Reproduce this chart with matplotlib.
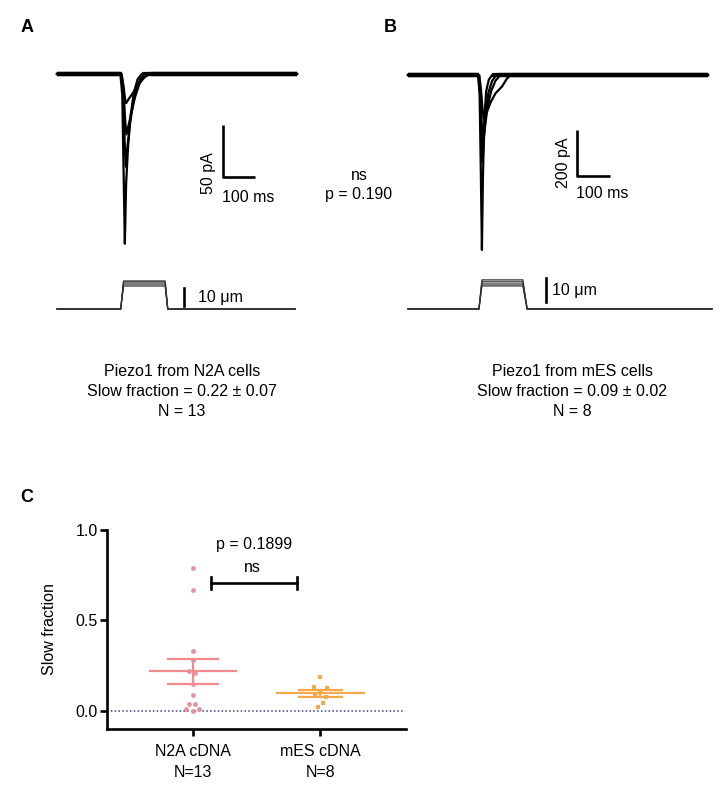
import numpy as np
import matplotlib
matplotlib.use("Agg")
import matplotlib.pyplot as plt

plt.rcParams["font.family"] = ["Liberation Sans", "DejaVu Sans"]

W, H = 725, 805

# --- panel A traces (time ms, current pA)
a_traces = [
    [(0, 0), (198, 0), (204, -20), (209, -110), (212, -163), (216, -105), (222, -70),
     (230, -40), (240, -18), (252, -5), (265, 0), (750, 0)],
    [(0, 0), (200, 0), (207, -20), (212, -70), (215, -89), (220, -70), (228, -48),
     (237, -30), (248, -13), (262, -4), (278, 0), (750, 0)],
    [(0, 0), (201, 0), (208, -15), (213, -45), (217, -58), (223, -50), (232, -38),
     (244, -22), (258, -9), (274, -3), (290, 0), (750, 0)],
    [(0, 0), (202, 0), (208, -12), (213, -25), (216, -28), (224, -24), (238, -18),
     (252, -11), (266, -5), (282, -1), (296, 0), (750, 0)],
]
# --- panel B traces
b_traces = [
    [(0, 0), (212, 0), (217, -80), (221, -450), (224, -761), (227, -450), (231, -200),
     (237, -70), (245, -20), (255, 0), (909, 0)],
    [(0, 0), (214, 0), (219, -100), (223, -300), (226, -378), (230, -280), (236, -160),
     (244, -75), (255, -25), (268, 0), (909, 0)],
    [(0, 0), (215, 0), (220, -90), (224, -230), (228, -283), (233, -230), (241, -140),
     (252, -70), (265, -25), (280, 0), (909, 0)],
    [(0, 0), (216, 0), (221, -60), (226, -150), (230, -190), (238, -165), (250, -120),
     (265, -80), (285, -50), (300, -15), (312, 0), (909, 0)],
]

# stimulus steps (um)
a_stim_tops = [15.6, 15.0, 13.9, 12.8]
a_stim_times = [0, 199, 208, 338, 346, 744]
b_stim_tops = [12.1, 11.3, 10.4, 9.6]
b_stim_times = [0, 215, 224, 348, 361, 921]

# --- panel C
groups = ["N2A cDNA\nN=13", "mES cDNA\nN=8"]
n2a_vals = [0.79, 0.67, 0.33, 0.28, 0.22, 0.21, 0.15, 0.09, 0.04, 0.04, 0.01, 0.0, 0.01]
n2a_jit = [0, 0, 0, 0, -0.03, 0.02, 0, 0, -0.03, 0.02, -0.055, 0, 0.05]
mes_vals = [0.185, 0.133, 0.124, 0.105, 0.092, 0.077, 0.044, 0.022]
mes_jit = [0, -0.05, 0.05, 0, -0.04, 0.04, 0.02, -0.02]


def px_axes(fig, x0, y0, x1, y1):
    return fig.add_axes([x0 / W, 1 - y1 / H, (x1 - x0) / W, (y1 - y0) / H])


def step_trace(top):
    return [0, 0, top, top, 0, 0]


def draw_traces(ax, traces):
    for tr in traces:
        t, i = zip(*tr)
        ax.plot(t, i, color="black", lw=1.6, solid_joinstyle="round")
        # noisy baseline looks thicker in the recordings
        ax.plot(t[:2], i[:2], color="black", lw=3.0, solid_capstyle="butt")
        ax.plot(t[-2:], i[-2:], color="black", lw=3.0, solid_capstyle="butt")


fig = plt.figure(figsize=(W / 100, H / 100), dpi=100)

# ---------- A current
ax = px_axes(fig, 50, 60, 320, 255)
ax.set_xlim(-21.9, 821.9)
ax.set_ylim(-173.8, 13.4)
ax.axis("off")
draw_traces(ax, a_traces)
ax.plot([519, 519, 619], [-49, -99, -99], color="black", lw=1.9, solid_capstyle="butt")
ax.text(472, -95, "50 pA", rotation=90, ha="center", va="center", fontsize=11.5)
ax.text(516, -119, "100 ms", ha="left", va="center", fontsize=11.5)

ax = px_axes(fig, 50, 270, 320, 320)
ax.set_xlim(-21.9, 821.9)
ax.set_ylim(-6.1, 21.7)
ax.axis("off")
for top in a_stim_tops:
    ax.plot(a_stim_times, step_trace(top), color="#333333", lw=0.9)
ax.plot([397, 397], [1.7, 11.7], color="black", lw=1.9)
ax.text(441, 6.5, "10 μm", ha="left", va="center", fontsize=11.5)

# ---------- B current
ax = px_axes(fig, 400, 60, 720, 260)
ax.set_xlim(-24.2, 945.4)
ax.set_ylim(-804.8, 65.3)
ax.axis("off")
draw_traces(ax, b_traces)
ax.plot([512, 512, 612], [-239, -439, -439], color="black", lw=1.9, solid_capstyle="butt")
ax.text(470, -383, "200 pA", rotation=90, ha="center", va="center", fontsize=11.5)
ax.text(508, -517, "100 ms", ha="left", va="center", fontsize=11.5)

ax = px_axes(fig, 400, 265, 720, 320)
ax.set_xlim(-24.2, 945.4)
ax.set_ylim(-4.6, 18.3)
ax.axis("off")
for top in b_stim_tops:
    ax.plot(b_stim_times, step_trace(top), color="#333333", lw=0.9)
ax.plot([418, 418], [2.9, 12.9], color="black", lw=1.9)
ax.text(437, 7.6, "10 μm", ha="left", va="center", fontsize=11.5)

# ---------- texts in the top half
fig.text(27 / W, 1 - 28 / H, "A", fontsize=13, weight="bold", ha="center", va="center")
fig.text(390 / W, 1 - 28 / H, "B", fontsize=13, weight="bold", ha="center", va="center")
fig.text(27 / W, 1 - 497 / H, "C", fontsize=13, weight="bold", ha="center", va="center")
fig.text(359 / W, 1 - 175 / H, "ns", fontsize=11.5, ha="center", va="center")
fig.text(359 / W, 1 - 195 / H, "p = 0.190", fontsize=11.5, ha="center", va="center")

cap_a = ["Piezo1 from N2A cells", "Slow fraction = 0.22 ± 0.07", "N = 13"]
cap_b = ["Piezo1 from mES cells", "Slow fraction = 0.09 ± 0.02", "N = 8"]
for k, (la, lb) in enumerate(zip(cap_a, cap_b)):
    y = 1 - (371 + 20 * k) / H
    fig.text(182 / W, y, la, fontsize=11.5, ha="center", va="center")
    fig.text(572 / W, y, lb, fontsize=11.5, ha="center", va="center")

# ---------- C scatter
ax = px_axes(fig, 107, 530, 406, 729)
ax.set_xlim(-0.67, 1.67)
ax.set_ylim(-0.1, 1.0)
for s in ["top", "right"]:
    ax.spines[s].set_visible(False)
for s in ["left", "bottom"]:
    ax.spines[s].set_linewidth(1.9)
ax.tick_params(width=1.9, length=5, labelsize=11.5)
ax.tick_params(axis="y", pad=1.5)
ax.tick_params(axis="x", pad=6)
ax.set_yticks([0.0, 0.5, 1.0])
ax.set_yticklabels(["0.0", "0.5", "1.0"])
ax.set_xticks([0, 1])
ax.set_xticklabels(groups, linespacing=1.5)
ax.set_ylabel("Slow fraction", fontsize=11.5)
ax.yaxis.set_label_coords(-0.167, 0.5)

ax.plot([-0.67, 1.65], [0, 0], ls=(0, (1, 1.5)), color="#3F3F85", lw=1.1, clip_on=False)

pink_line, pink_pt = "#F08A8E", "#E8909C"
orange = "#F5A94A"
specs = [
    (0, n2a_vals, n2a_jit, pink_line, pink_pt, "o", 0.336, 0.195),
    (1, mes_vals, mes_jit, orange, orange, "s", 0.34, 0.17),
]
for x, vals, jit, lc, pc, mk, hw, sw in specs:
    v = np.array(vals)
    m = v.mean()
    sem = v.std(ddof=1) / np.sqrt(len(v))
    ax.scatter(x + np.array(jit), v, s=12, marker=mk, color=pc, zorder=3, linewidths=0)
    ax.plot([x - hw, x + hw], [m, m], color=lc, lw=1.6, zorder=2)
    ax.plot([x - sw, x + sw], [m + sem, m + sem], color=lc, lw=1.6, zorder=2)
    ax.plot([x - sw, x + sw], [m - sem, m - sem], color=lc, lw=1.6, zorder=2)
    ax.plot([x, x], [m - sem, m + sem], color=lc, lw=1.6, zorder=2)

ax.plot([0.14, 0.82], [0.706, 0.706], color="black", lw=1.9)
ax.plot([0.14, 0.14], [0.673, 0.739], color="black", lw=1.9)
ax.plot([0.82, 0.82], [0.673, 0.739], color="black", lw=1.9)
ax.text(0.48, 0.92, "p = 0.1899", fontsize=11.5, ha="center", va="center")
ax.text(0.47, 0.79, "ns", fontsize=11.5, ha="center", va="center")

fig.savefig("out.png", dpi=100)
